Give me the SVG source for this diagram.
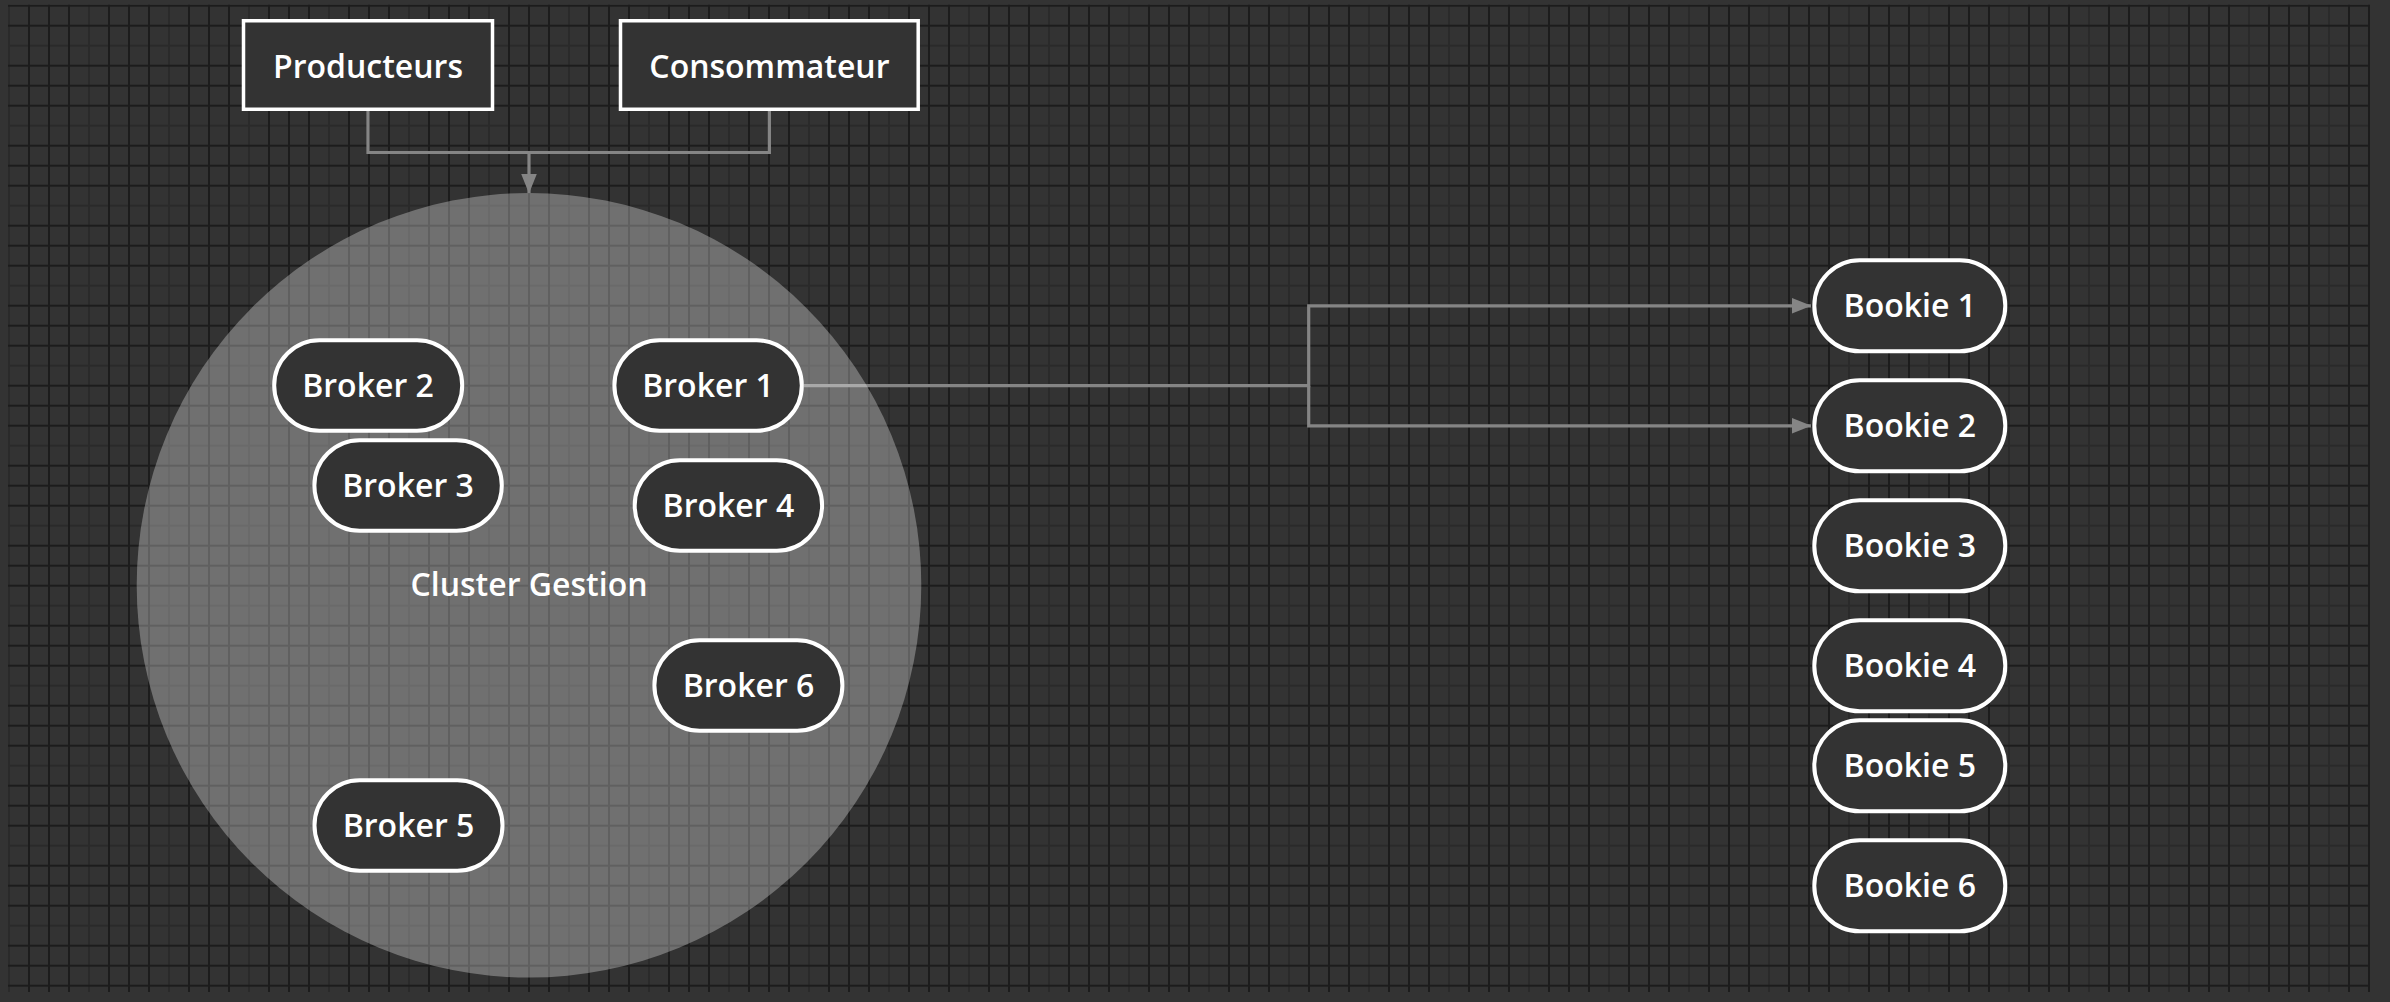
<svg xmlns="http://www.w3.org/2000/svg" width="2390" height="1002" viewBox="0 0 2390 1002">
  <defs>
    <pattern id="grid" patternUnits="userSpaceOnUse" x="8" y="4.7" width="80" height="80">
      <rect x="0" y="0" width="2" height="80" fill="#2a2a2a"/>
      <rect x="0" y="40" width="80" height="2" fill="#2a2a2a"/>
      <rect x="20" y="0" width="2" height="80" fill="#1c1c1c"/>
      <rect x="40" y="0" width="2" height="80" fill="#1c1c1c"/>
      <rect x="60" y="0" width="2" height="80" fill="#1c1c1c"/>
      <rect x="0" y="0" width="80" height="2" fill="#1c1c1c"/>
      <rect x="0" y="20" width="80" height="2" fill="#1c1c1c"/>
      <rect x="0" y="60" width="80" height="2" fill="#1c1c1c"/>
    </pattern>
    <marker id="arrow" viewBox="0 0 20 16" refX="19.5" refY="8" markerWidth="20" markerHeight="16" markerUnits="userSpaceOnUse" orient="auto">
      <path d="M0,0 L20,8 L0,16 Z" fill="#858585"/>
    </marker>
  </defs>
  <style>
    .lbl { font-family: "Open Sans", "Noto Sans", "Liberation Sans", sans-serif; font-size: 32px; font-weight: 600; fill: #ffffff; text-anchor: middle; }
    .box { fill: #333333; stroke: #ffffff; stroke-width: 3.5; }
    .pill { fill: #333333; stroke: #ffffff; stroke-width: 4; }
    .conn { fill: none; stroke: #858585; stroke-width: 3.2; }
  </style>
  <rect x="0" y="0" width="2390" height="1002" fill="#333333"/>
  <rect x="8" y="4.7" width="2362" height="987.3" fill="url(#grid)"/>

  <g id="connectors">
    <path class="conn" d="M368,111 V152.5 H769.4 V111"/>
    <path class="conn" d="M529,152.5 V193" marker-end="url(#arrow)"/>
    <path class="conn" d="M803.7,385.7 H1308.7 V305.8 H1811" marker-end="url(#arrow)"/>
    <path class="conn" d="M1308.7,385.7 V425.8 H1811" marker-end="url(#arrow)"/>
  </g>

  <g id="cluster">
    <circle cx="529" cy="585.3" r="392.3" fill="#ffffff" fill-opacity="0.3"/>
    <text class="lbl" x="529" y="596">Cluster Gestion</text>
  </g>

  <g id="producteurs">
    <rect class="box" x="243.5" y="20.75" width="249" height="88.5"/>
    <text class="lbl" x="368" y="78">Producteurs</text>
  </g>
  <g id="consommateur">
    <rect class="box" x="620.5" y="20.75" width="297.7" height="88.5"/>
    <text class="lbl" x="769.4" y="78">Consommateur</text>
  </g>

  <g id="broker1">
    <rect class="pill" x="614.4" y="340.3" width="187.4" height="90.4" rx="45.2"/>
    <text class="lbl" x="708" y="397.3">Broker 1</text>
  </g>
  <g id="broker2">
    <rect class="pill" x="274.2" y="340.3" width="188" height="90.4" rx="45.2"/>
    <text class="lbl" x="368" y="397.3">Broker 2</text>
  </g>
  <g id="broker3">
    <rect class="pill" x="314.4" y="440.3" width="187.4" height="90.4" rx="45.2"/>
    <text class="lbl" x="408" y="497.3">Broker 3</text>
  </g>
  <g id="broker4">
    <rect class="pill" x="634.7" y="460.3" width="187.4" height="90.4" rx="45.2"/>
    <text class="lbl" x="728.4" y="517.3">Broker 4</text>
  </g>
  <g id="broker5">
    <rect class="pill" x="314.5" y="780.3" width="188" height="90.4" rx="45.2"/>
    <text class="lbl" x="408.5" y="837.3">Broker 5</text>
  </g>
  <g id="broker6">
    <rect class="pill" x="654.4" y="640.3" width="188" height="90.4" rx="45.2"/>
    <text class="lbl" x="748.5" y="697.3">Broker 6</text>
  </g>

  <g id="bookie1">
    <rect class="pill" x="1814.3" y="260.3" width="191" height="91" rx="45.5"/>
    <text class="lbl" x="1909.8" y="317.3">Bookie 1</text>
  </g>
  <g id="bookie2">
    <rect class="pill" x="1814.3" y="380.3" width="191" height="91" rx="45.5"/>
    <text class="lbl" x="1909.8" y="437.3">Bookie 2</text>
  </g>
  <g id="bookie3">
    <rect class="pill" x="1814.3" y="500.3" width="191" height="91" rx="45.5"/>
    <text class="lbl" x="1909.8" y="557.3">Bookie 3</text>
  </g>
  <g id="bookie4">
    <rect class="pill" x="1814.3" y="620.3" width="191" height="91" rx="45.5"/>
    <text class="lbl" x="1909.8" y="677.3">Bookie 4</text>
  </g>
  <g id="bookie5">
    <rect class="pill" x="1814.3" y="720.3" width="191" height="91" rx="45.5"/>
    <text class="lbl" x="1909.8" y="777.3">Bookie 5</text>
  </g>
  <g id="bookie6">
    <rect class="pill" x="1814.3" y="840.3" width="191" height="91" rx="45.5"/>
    <text class="lbl" x="1909.8" y="897.3">Bookie 6</text>
  </g>
</svg>
